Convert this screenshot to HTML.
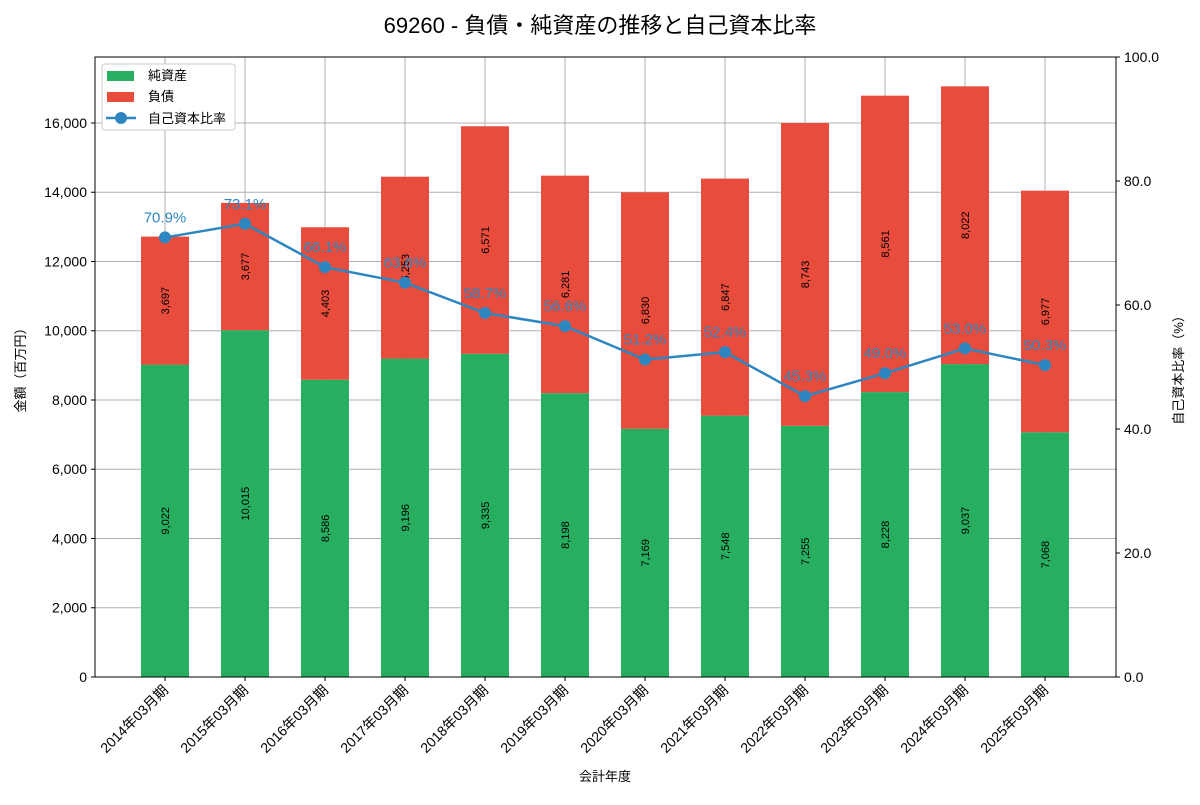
<!DOCTYPE html>
<html><head><meta charset="utf-8"><style>
body{margin:0;background:#fff;font-family:"Liberation Sans","Noto Sans CJK JP",sans-serif}
svg text{font-family:"Liberation Sans","Noto Sans CJK JP",sans-serif}
</style></head><body>
<svg id="chart" width="1200" height="800" xmlns="http://www.w3.org/2000/svg">
<text x="600" y="33" text-anchor="middle" font-size="22">69260 - 負債・純資産の推移と自己資本比率</text>
<g id="grid"></g><g id="bars"></g><g id="line"></g><g id="axes"></g>
<g>
<rect x="102" y="64" width="133" height="66" fill="#fff" stroke="#ccc" rx="3"/>
<rect x="107" y="71" width="27" height="10" fill="#27ae60"/>
<text x="148" y="80" font-size="13">純資産</text>
<rect x="107" y="92" width="27" height="10" fill="#e74c3c"/>
<text x="148" y="101" font-size="13">負債</text>
<line x1="106" y1="118" x2="136" y2="118" stroke="#2e86c1" stroke-width="2.5"/>
<circle cx="121" cy="118" r="6" fill="#2e86c1"/>
<text x="148" y="123" font-size="13">自己資本比率</text>
</g>
<text x="25" y="367" font-size="13" text-anchor="middle" transform="rotate(-90 25 367)">金額（百万円）</text>
<text x="1183" y="367" font-size="13" text-anchor="middle" transform="rotate(-90 1183 367)">自己資本比率（%）</text>
<text x="605" y="781" font-size="13" text-anchor="middle">会計年度</text>
</svg>
<script>
const categories=["2014年03月期","2015年03月期","2016年03月期","2017年03月期","2018年03月期","2019年03月期","2020年03月期","2021年03月期","2022年03月期","2023年03月期","2024年03月期","2025年03月期"];
const equity=[9022,10015,8586,9196,9335,8198,7169,7548,7255,8228,9037,7068];
const liabilities=[3697,3677,4403,5253,6571,6281,6830,6847,8743,8561,8022,6977];
const ratio=[70.9,73.1,66.1,63.6,58.7,56.6,51.2,52.4,45.3,49.0,53.0,50.3];
const leftTicks=[0,2000,4000,6000,8000,10000,12000,14000,16000];
const rightTicks=[0,20,40,60,80,100];
const NS="http://www.w3.org/2000/svg";
const X0=95,X1=1116,Y0=677,Y1=57;
const yL=v=>Y0-v*(Y0-Y1)/17906;
const yR=v=>Y0-v*(Y0-Y1)/100;
const xC=i=>165+i*80;
function mk(p,t,a){const e=document.createElementNS(NS,t);for(const k in a)e.setAttribute(k,a[k]);document.getElementById(p).appendChild(e);return e;}
// grid
leftTicks.forEach(v=>{const l=mk('grid','line',{x1:X0,x2:X1,y1:yL(v),y2:yL(v),stroke:'#b0b0b0','stroke-width':1});

});
categories.forEach((c,i)=>{const l=mk('grid','line',{x1:xC(i),x2:xC(i),y1:Y1,y2:Y0,stroke:'#b0b0b0','stroke-width':1});

});
// bars
categories.forEach((c,i)=>{
 const x=xC(i)-24;
 const r1=mk('bars','rect',{x:x,width:48,y:yL(equity[i]),height:Y0-yL(equity[i]),fill:'#27ae60'});
 
 
 const tot=equity[i]+liabilities[i];
 const r2=mk('bars','rect',{x:x,width:48,y:yL(tot),height:yL(equity[i])-yL(tot),fill:'#e74c3c'});
 
 
 [[equity[i]/2,equity[i]],[equity[i]+liabilities[i]/2,liabilities[i]]].forEach(([m,v])=>{
  const cy=yL(m),cx=xC(i)+4;
  const t=mk('bars','text',{x:cx,y:cy,'font-size':11,'text-anchor':'middle',transform:`rotate(-90 ${cx} ${cy})`});
  t.textContent=v.toLocaleString('en-US');
  
  
 });
});
// line
const pl=mk('line','polyline',{points:ratio.map((v,i)=>xC(i)+','+yR(v)).join(' '),fill:'none',stroke:'#2e86c1','stroke-width':2.5});


ratio.forEach((v,i)=>{
 const c=mk('line','circle',{cx:xC(i),cy:yR(v),r:6,fill:'#2e86c1'});
 
 
 const t=mk('line','text',{x:xC(i),y:yR(v)-15,'font-size':15,'text-anchor':'middle',fill:'#2e86c1'});
 t.textContent=v.toFixed(1)+'%';
 
 
});
// axes
const f=mk('axes','rect',{x:X0,y:Y1,width:X1-X0,height:Y0-Y1,fill:'none',stroke:'#000','stroke-width':1});


leftTicks.forEach(v=>{mk('axes','line',{x1:X0-4,x2:X0,y1:yL(v),y2:yL(v),stroke:'#000'});
 const t=mk('axes','text',{x:X0-8,y:yL(v)+5,'font-size':14,'text-anchor':'end'});t.textContent=v.toLocaleString('en-US');
 
 });
rightTicks.forEach(v=>{mk('axes','line',{x1:X1,x2:X1+4,y1:yR(v),y2:yR(v),stroke:'#000'});
 const t=mk('axes','text',{x:X1+8,y:yR(v)+5,'font-size':14});t.textContent=v.toFixed(1);
 
 });
categories.forEach((c,i)=>{mk('axes','line',{x1:xC(i),x2:xC(i),y1:Y0,y2:Y0+4,stroke:'#000'});
 const x=xC(i)+4,y=Y0+14;
 const t=mk('axes','text',{x:x,y:y,'font-size':14,'text-anchor':'end',transform:`rotate(-45 ${x} ${y})`});t.textContent=c;
 
 });
</script>
</body></html>
